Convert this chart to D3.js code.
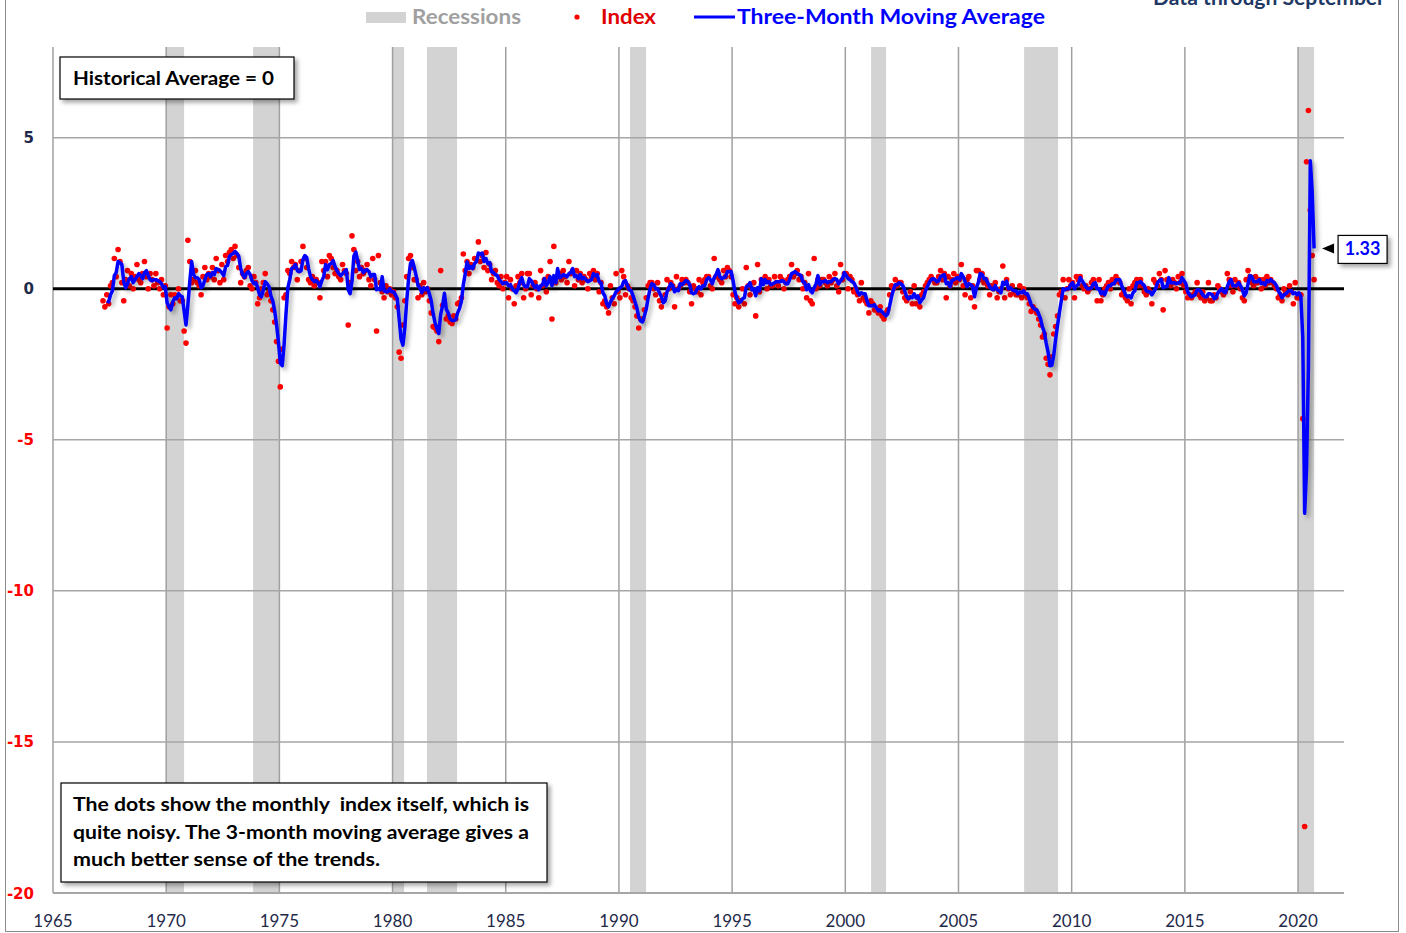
<!DOCTYPE html>
<html><head><meta charset="utf-8">
<script src="https://cdn.jsdelivr.net/npm/d3@7"></script>
<style>html,body{margin:0;padding:0;background:#fff;} svg{display:block;}</style>
</head><body>
<svg id="chart" width="1406" height="933"></svg>
<script>
// ---------- DATA ----------
// Monthly index, starting March 1967, ending September 2020
const startYear = 1967, startMonth = 3;
const indexValues = [
/*1967*/ -0.4,-0.6,-0.2,-0.5,0.1,0.2,1.0,0.4,1.3,0.9,
/*1968*/ 0.2,-0.4,0.3,0.6,0.1,0.5,0.0,0.4,0.8,0.3,0.2,0.5,
/*1969*/ 0.9,0.4,0.0,0.5,0.3,0.1,0.5,0.2,0.0,0.3,-0.2,0.1,
/*1970*/ -1.3,-0.6,-0.2,-0.5,-0.2,-0.3,0.0,-0.4,-0.4,-1.4,-1.8,1.6,
/*1971*/ 0.9,0.2,0.3,0.6,0.2,0.1,-0.2,0.4,0.7,0.3,0.5,0.4,
/*1972*/ 0.7,0.3,1.0,0.6,0.2,0.8,0.3,1.1,0.9,1.2,1.3,1.0,
/*1973*/ 1.4,1.1,0.7,0.2,0.5,0.4,0.6,0.7,0.1,0.0,0.4,0.2,
/*1974*/ -0.5,-0.3,0.0,0.2,0.5,-0.2,-0.1,-0.4,-0.7,-1.1,-1.75,-2.4,
/*1975*/ -3.25,-2.0,-0.3,-0.2,0.6,0.5,0.9,0.7,0.8,0.3,0.6,0.9,
/*1976*/ 1.4,1.0,0.7,0.3,0.2,0.4,0.1,0.3,0.2,-0.3,0.9,0.6,
/*1977*/ 0.9,0.4,1.1,1.0,0.7,0.5,0.6,0.4,0.3,0.8,0.6,0.5,
/*1978*/ -1.2,0.2,1.75,1.3,0.6,0.9,0.4,0.7,0.5,0.6,0.8,0.3,
/*1979*/ 0.1,1.0,0.3,-1.4,1.1,0.2,-0.1,-0.3,0.1,-0.1,0.0,-0.2,
/*1980*/ -0.1,-0.3,-0.6,-2.1,-2.3,-1.2,-0.4,0.4,1.0,1.1,0.7,0.3,
/*1981*/ 0.3,-0.3,0.1,-0.2,0.2,-0.1,0.0,-0.4,-0.8,-1.25,-1.3,-1.4,
/*1982*/ -1.75,0.6,-0.55,-0.5,-1.0,-0.9,-1.1,-1.15,-0.9,-1.0,-0.5,-0.45,
/*1983*/ -0.3,1.15,0.6,0.9,0.5,0.8,0.7,1.0,1.0,1.55,0.9,1.1,
/*1984*/ 0.7,1.2,0.6,0.8,0.3,0.5,0.6,0.2,0.1,0.4,0.0,0.2,
/*1985*/ 0.4,-0.3,0.3,0.0,-0.5,0.1,0.4,0.2,0.5,-0.3,0.0,0.5,
/*1986*/ 0.5,-0.2,0.1,0.2,0.0,-0.3,0.6,0.1,0.3,-0.1,0.4,0.9,
/*1987*/ -1.0,1.4,0.2,0.4,0.5,0.3,0.6,0.4,0.2,0.9,0.5,0.6,
/*1988*/ 0.1,0.6,0.3,0.5,0.2,0.4,0.3,0.0,0.5,0.4,0.6,0.3,
/*1989*/ 0.5,-0.1,0.2,-0.5,-0.4,-0.6,-0.8,0.1,-0.3,-0.5,0.5,-0.1,
/*1990*/ -0.3,0.6,0.4,-0.2,0.1,0.0,-0.3,-0.4,-0.6,-0.9,-1.3,-1.0,
/*1991*/ -1.0,-0.7,-0.3,0.1,0.2,0.2,0.0,-0.2,0.2,-0.4,-0.6,-0.4,
/*1992*/ -0.2,0.3,0.0,0.2,0.1,-0.6,0.4,0.0,0.1,0.3,0.2,0.3,
/*1993*/ 0.2,-0.1,-0.5,0.1,0.0,-0.1,0.3,-0.2,0.2,0.3,0.4,0.4,
/*1994*/ 0.1,0.0,1.0,0.4,0.5,0.3,0.2,0.6,0.4,0.7,0.6,0.4,
/*1995*/ -0.2,-0.5,-0.3,-0.6,-0.4,0.0,-0.5,0.7,0.1,-0.2,0.0,0.2,
/*1996*/ -0.9,0.8,-0.1,0.3,0.2,0.4,0.0,0.3,0.1,0.1,0.4,0.2,
/*1997*/ 0.1,0.4,0.3,0.0,0.2,0.3,0.4,0.8,0.4,0.5,0.6,0.3,
/*1998*/ 0.4,0.0,0.2,-0.3,0.5,-0.4,-0.5,1.0,0.0,0.3,0.1,0.3,
/*1999*/ 0.3,0.2,0.1,0.4,0.2,0.3,0.5,0.1,-0.1,0.8,0.3,0.5,
/*2000*/ 0.5,0.0,0.4,0.3,-0.1,0.0,-0.2,-0.4,0.2,-0.3,-0.4,-0.5,
/*2001*/ -0.8,-0.4,-0.5,-0.7,-0.7,-0.8,-0.6,-0.9,-1.0,-0.8,-0.7,-0.2,
/*2002*/ 0.1,0.0,0.3,0.1,0.2,0.2,-0.1,-0.3,-0.4,-0.3,-0.1,-0.5,
/*2003*/ 0.1,-0.5,-0.3,-0.6,-0.2,-0.1,0.1,0.2,0.3,0.4,0.3,0.2,
/*2004*/ 0.2,0.4,0.6,0.3,0.5,-0.3,0.4,0.1,0.3,0.5,0.2,0.4,
/*2005*/ 0.3,0.8,0.1,-0.2,0.3,0.4,-0.3,0.1,-0.6,0.6,0.6,0.3,
/*2006*/ 0.5,0.2,0.3,0.1,-0.2,0.1,0.0,0.2,-0.3,-0.1,0.0,0.75,
/*2007*/ -0.3,0.3,0.0,-0.2,0.1,-0.1,-0.2,-0.2,0.1,-0.3,0.0,-0.2,
/*2008*/ -0.3,-0.5,-0.75,-0.6,-0.7,-0.8,-1.0,-1.2,-1.6,-1.5,-2.3,-2.5,
/*2009*/ -2.85,-2.25,-1.5,-1.25,-0.9,-0.2,-0.1,0.3,-0.3,0.0,0.3,0.1,
/*2010*/ 0.2,-0.3,0.4,0.3,0.4,0.1,0.0,0.1,-0.1,0.0,0.2,0.3,
/*2011*/ 0.1,-0.4,0.3,-0.4,-0.2,0.0,0.1,0.2,0.0,0.3,0.2,0.4,
/*2012*/ 0.3,0.2,-0.2,-0.1,-0.3,-0.4,0.0,-0.5,0.1,0.2,0.3,0.1,
/*2013*/ 0.3,0.1,-0.1,-0.2,0.0,-0.1,-0.5,0.3,0.2,0.1,0.5,0.3,
/*2014*/ -0.7,0.6,0.3,0.2,0.1,0.3,0.2,0.0,0.4,0.2,0.5,0.1,
/*2015*/ -0.1,-0.3,-0.2,-0.3,-0.2,-0.1,0.2,-0.2,-0.3,-0.1,-0.4,-0.3,
/*2016*/ 0.2,-0.4,-0.4,-0.2,-0.3,0.1,0.0,-0.1,-0.2,-0.1,0.5,0.3,
/*2017*/ 0.1,-0.1,0.3,0.1,0.2,0.0,-0.3,-0.4,0.3,0.6,0.4,0.2,
/*2018*/ 0.1,0.4,0.2,0.3,0.0,0.3,0.1,0.4,0.2,0.3,0.2,0.1,
/*2019*/ 0.0,-0.3,-0.2,-0.4,0.0,-0.1,-0.2,0.1,-0.1,-0.5,0.2,-0.3,
/*2020*/ -0.3,-0.2,-4.3,-17.8,4.2,5.9,2.6,1.1,0.3
];
// Recession periods (decimal years)
const recessionStart = [1969.99, 1973.84, 1980.02, 1981.52, 1990.49, 2001.14, 2007.9, 2020.0];
const recessionEnd   = [1970.79, 1975.03, 1980.51, 1982.85, 1991.2, 2001.8, 2009.4, 2020.71];
const xTickYears = [1965,1970,1975,1980,1985,1990,1995,2000,2005,2010,2015,2020];
const yTickValues = [5,0,-5,-10,-15,-20];
const legendLabels = ["Recessions","Index","Three-Month Moving Average"];
const noteLines = ["The dots show the monthly  index itself, which is",
                   "quite noisy. The 3-month moving average gives a",
                   "much better sense of the trends."];

// ---------- DERIVED SERIES ----------
const points = indexValues.map((v,i) => ({t: startYear + (startMonth - 1 + i + 0.5)/12, v}));
// three-month moving average of the index
const ma = [];
for (let i = 2; i < points.length; i++) {
  ma.push({t: points[i].t, v: (points[i].v + points[i-1].v + points[i-2].v)/3});
}

// ---------- CHART ----------
const svg = d3.select("#chart");
const L = 53, R = 1344, T = 47, B = 893;
const x = d3.scaleLinear().domain([1965, 2022.03]).range([L, R]);
const y = d3.scaleLinear().domain([-20, 8]).range([B, T]);
const bodyFont = "Lato, 'Open Sans', sans-serif";

const defs = svg.append("defs");
const sh = defs.append("filter").attr("id","shadow").attr("x","-10%").attr("y","-10%").attr("width","130%").attr("height","140%");
sh.append("feDropShadow").attr("dx",3).attr("dy",3).attr("stdDeviation",2).attr("flood-color","#000").attr("flood-opacity",0.35);
const lsh = defs.append("filter").attr("id","lshadow").attr("x","-5%").attr("y","-5%").attr("width","110%").attr("height","110%");
lsh.append("feDropShadow").attr("dx",3).attr("dy",3).attr("stdDeviation",2).attr("flood-color","#000").attr("flood-opacity",0.3);

// outer frame
svg.append("rect").attr("x",5.5).attr("y",-5).attr("width",1393).attr("height",936.5)
  .attr("fill","none").attr("stroke","#8c8c8c").attr("stroke-width",1);

// recessions
svg.append("g").selectAll("rect").data(recessionStart).join("rect")
  .attr("x", (d) => x(d)).attr("width", (d,i) => x(recessionEnd[i]) - x(d))
  .attr("y", T).attr("height", B - T).attr("fill","#d3d3d3");

// vertical grid lines
svg.append("g").selectAll("line").data(xTickYears).join("line")
  .attr("x1", d => x(d)).attr("x2", d => x(d)).attr("y1", T).attr("y2", B)
  .attr("stroke","#a0a0a0").attr("stroke-width",1.5);
// horizontal grid lines
svg.append("g").selectAll("line").data(yTickValues.filter(d => d !== 0)).join("line")
  .attr("x1", L).attr("x2", R).attr("y1", d => y(d)).attr("y2", d => y(d))
  .attr("stroke","#a6a6a6").attr("stroke-width", d => d === -20 ? 2 : 1.5);

// y tick labels
svg.append("g").selectAll("text").data(yTickValues).join("text")
  .attr("x", 34).attr("y", d => y(d) + 5.5).attr("text-anchor","end")
  .attr("font-family","'DejaVu Sans', Verdana, sans-serif").attr("font-weight","bold").attr("font-size",15)
  .attr("fill", d => d < 0 ? "#ff0000" : "#1f2a4a").text(d => d);

// x tick labels
svg.append("g").selectAll("text").data(xTickYears).join("text")
  .attr("x", d => x(d)).attr("y", 927).attr("text-anchor","middle")
  .attr("font-family","'Liberation Sans Narrow', 'Arial Narrow', Lato, sans-serif").attr("font-size",17)
  .attr("fill","#1f2a4a").text(d => d);

// zero line
svg.append("line").attr("x1",L).attr("x2",R).attr("y1",y(0)).attr("y2",y(0))
  .attr("stroke","#000").attr("stroke-width",3);

// dots
svg.append("g").selectAll("circle").data(points).join("circle")
  .attr("cx", d => x(d.t)).attr("cy", d => y(d.v)).attr("r",2.8).attr("fill","#ff0000");

// moving-average line
svg.append("path").datum(ma)
  .attr("d", d3.line().x(d => x(d.t)).y(d => y(d.v)))
  .attr("fill","none").attr("stroke","#0000ff").attr("stroke-width",3.5)
  .attr("stroke-linejoin","round").attr("filter","url(#lshadow)");

// callout for last value
const last = ma[ma.length-1];
const tipX = x(last.t) + 8, tipY = y(last.v);
svg.append("path").attr("d", `M${tipX},${tipY} L${tipX+12},${tipY-5} L${tipX+12},${tipY+5} Z`).attr("fill","#000");
svg.append("rect").attr("x", tipX+16).attr("y", tipY-13).attr("width",49).attr("height",28)
  .attr("fill","#fff").attr("stroke","#000").attr("stroke-width",1.2).attr("filter","url(#shadow)");
svg.append("text").attr("x", tipX+40.5).attr("y", tipY+7).attr("text-anchor","middle")
  .attr("font-family",bodyFont).attr("font-weight","bold").attr("font-size",18).attr("fill","#0000ff")
  .text(d3.format(".2f")(last.v));

// Historical average box
svg.append("rect").attr("x",60).attr("y",57).attr("width",234).attr("height",42)
  .attr("fill","#fff").attr("stroke","#000").attr("stroke-width",1.2).attr("filter","url(#shadow)");
svg.append("text").attr("x",73).attr("y",85).attr("font-family",bodyFont).attr("font-weight","bold")
  .attr("font-size",19).attr("fill","#000").attr("textLength",201).attr("lengthAdjust","spacingAndGlyphs")
  .text("Historical Average = 0");

// note box
svg.append("rect").attr("x",61).attr("y",783).attr("width",486).attr("height",99)
  .attr("fill","#fff").attr("stroke","#000").attr("stroke-width",1.2).attr("filter","url(#shadow)");
const noteWidths = [456, 456, 307];
svg.append("g").selectAll("text").data(noteLines).join("text")
  .attr("x",73).attr("y",(d,i) => 811 + i*27.5).attr("font-family",bodyFont).attr("font-weight","bold")
  .attr("font-size",19).attr("fill","#000").style("white-space","pre")
  .attr("textLength",(d,i) => noteWidths[i]).attr("lengthAdjust","spacingAndGlyphs").text(d => d);

// legend
const lg = svg.append("g").attr("font-family",bodyFont).attr("font-weight","bold").attr("font-size",20);
lg.append("rect").attr("x",366).attr("y",12).attr("width",40).attr("height",11).attr("fill","#d3d3d3");
lg.append("text").attr("x",412).attr("y",24).attr("fill","#a0a0a0").attr("textLength",109).attr("lengthAdjust","spacingAndGlyphs").text(legendLabels[0]);
lg.append("circle").attr("cx",577).attr("cy",17).attr("r",2.6).attr("fill","#ff0000");
lg.append("text").attr("x",601).attr("y",24).attr("fill","#e00000").attr("textLength",55).attr("lengthAdjust","spacingAndGlyphs").text(legendLabels[1]);
lg.append("line").attr("x1",694).attr("x2",735).attr("y1",17).attr("y2",17).attr("stroke","#0000ff").attr("stroke-width",3);
lg.append("text").attr("x",737).attr("y",24).attr("fill","#0000ff").attr("textLength",308).attr("lengthAdjust","spacingAndGlyphs").text(legendLabels[2]);

// subtitle at the top right (cut off by the top edge, as in the reference)
svg.append("text").attr("x",1385).attr("y",5).attr("text-anchor","end")
  .attr("font-family",bodyFont).attr("font-weight","bold").attr("font-size",20).attr("fill","#1f3864")
  .attr("textLength",232).attr("lengthAdjust","spacingAndGlyphs").text("Data through September");
</script>
</body></html>
